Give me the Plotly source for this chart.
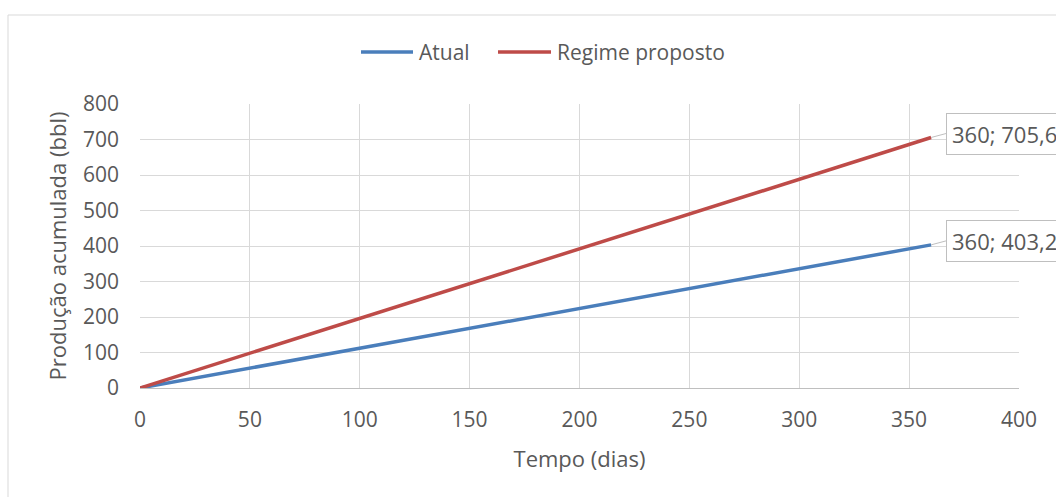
import plotly.graph_objects as go

dias = [0, 30, 60, 90, 120, 150, 180, 210, 240, 270, 300, 330, 360]
atual = [0, 33.6, 67.2, 100.8, 134.4, 168.0, 201.6, 235.2, 268.8, 302.4, 336.0, 369.6, 403.2]
regime = [0, 58.8, 117.6, 176.4, 235.2, 294.0, 352.8, 411.6, 470.4, 529.2, 588.0, 646.8, 705.6]
labels = ["360; 403,2", "360; 705,6"]
series_names = ["Atual", "Regime proposto"]
colors = ["#4a7ebb", "#be4b48"]

FONT = "Open Sans"
TXT = "#595959"
FT = 21   # ticks
FL = 22   # titles / labels
FG = 21   # legend

W, H = 1056, 497
L, R, T, B = 140, 37, 104, 109
pw, ph = W - L - R, H - T - B


def px(x):
    return (x - L) / pw


def py(y):
    return (H - B - y) / ph


fig = go.Figure()
for xs, ys, nm, c in [(dias, atual, series_names[0], colors[0]),
                      (dias, regime, series_names[1], colors[1])]:
    fig.add_trace(go.Scatter(x=xs, y=ys, mode="lines", name=nm, showlegend=False,
                             line=dict(color=c, width=3.5)))

for xs, ys, lab in [(dias, atual, labels[0]), (dias, regime, labels[1])]:
    fig.add_annotation(x=xs[-1], y=ys[-1], xref="x", yref="y", text=lab,
                       showarrow=True, arrowhead=0, arrowwidth=1, arrowcolor="#bfbfbf",
                       ax=15, ay=-4, xanchor="left", yanchor="middle",
                       bgcolor="white", bordercolor="#bfbfbf", borderwidth=1, borderpad=5,
                       font=dict(family=FONT, size=FL, color=TXT), align="left")

# legend (drawn manually to match line-sample length)
leg_y = 52
for (x0, x1, tx), nm, c in zip([(361, 413, 417), (498, 551, 555)], series_names, colors):
    fig.add_shape(type="line", xref="paper", yref="paper", x0=px(x0), x1=px(x1),
                  y0=py(leg_y), y1=py(leg_y), line=dict(color=c, width=3.5))
    fig.add_annotation(xref="paper", yref="paper", x=px(tx), y=py(leg_y), text=nm,
                       showarrow=False, xanchor="left", yanchor="middle",
                       font=dict(family=FONT, size=FG, color=TXT))

# chart outer border
fig.add_shape(type="rect", xref="paper", yref="paper",
              x0=px(8), x1=px(1070), y0=py(510), y1=py(15),
              line=dict(color="#d9d9d9", width=1), fillcolor="rgba(0,0,0,0)", layer="below")

fig.update_layout(
    width=W, height=H,
    margin=dict(l=L, r=R, t=T, b=B),
    plot_bgcolor="white", paper_bgcolor="white",
    font=dict(family=FONT, size=FT, color=TXT),
    showlegend=False,
    xaxis=dict(range=[0, 400], dtick=50, showgrid=True, gridcolor="#d9d9d9", gridwidth=1,
               zeroline=False, showline=True, linecolor="#bfbfbf", linewidth=1, mirror=False,
               ticks="", ticklen=0, ticklabelstandoff=13,
               tickfont=dict(family=FONT, size=FT, color=TXT),
               title=dict(text="Tempo (dias)", font=dict(family=FONT, size=FL, color=TXT), standoff=19)),
    yaxis=dict(range=[0, 800], dtick=100, showgrid=True, gridcolor="#d9d9d9", gridwidth=1,
               zeroline=False, showline=False, ticks="", ticklabelstandoff=20,
               tickfont=dict(family=FONT, size=FT, color=TXT),
               title=dict(text="Produção acumulada (bbl)", font=dict(family=FONT, size=FL, color=TXT), standoff=10)),
)

fig.write_html("out.html")
